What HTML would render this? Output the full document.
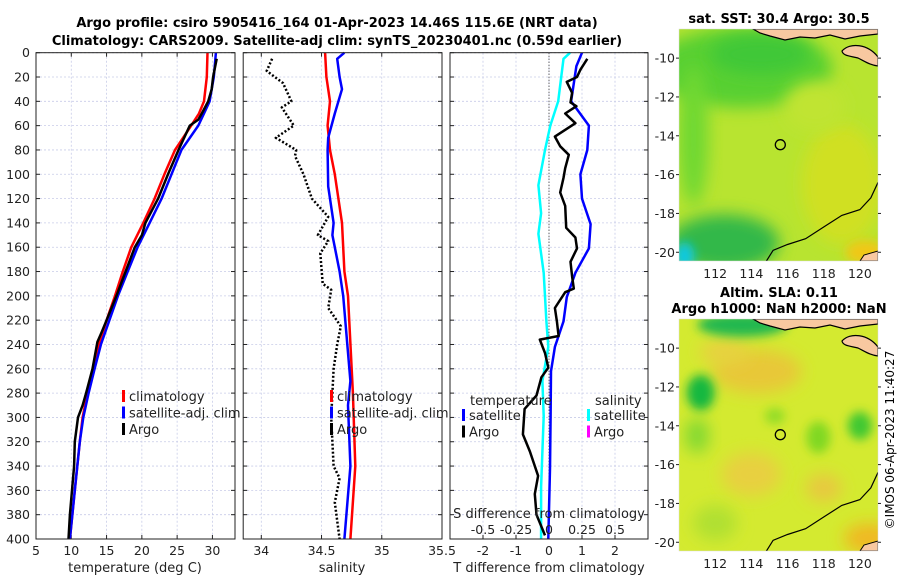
<!DOCTYPE html>
<html><head><meta charset="utf-8">
<style>
html,body{margin:0;padding:0;background:#fff;}
body{width:900px;height:580px;overflow:hidden;font-family:"Liberation Sans","DejaVu Sans",sans-serif;}
svg text{font-family:"DejaVu Sans","Liberation Sans",sans-serif;}
</style></head>
<body>
<svg id="chart" width="900" height="580" viewBox="0 0 900 580" xmlns="http://www.w3.org/2000/svg">
<defs>
<filter id="blur8" x="-50%" y="-50%" width="200%" height="200%"><feGaussianBlur stdDeviation="8"/></filter>
<filter id="blur5" x="-50%" y="-50%" width="200%" height="200%"><feGaussianBlur stdDeviation="5"/></filter>
<clipPath id="clipM1"><rect x="679" y="29" width="199" height="232"/></clipPath>
<clipPath id="clipM2"><rect x="679" y="319" width="199" height="232"/></clipPath>
</defs>
<text x="337" y="27" font-size="13" font-weight="bold" text-anchor="middle">Argo profile: csiro 5905416_164 01-Apr-2023 14.46S 115.6E (NRT data)</text>
<text x="337" y="45" font-size="13" font-weight="bold" text-anchor="middle">Climatology: CARS2009. Satellite-adj clim: synTS_20230401.nc (0.59d earlier)</text>
<g id="g1"></g>
<g id="g2"></g>
<g id="g3"></g>
<g id="m1"></g>
<g id="m2"></g>
<text x="0" y="0" font-size="12" text-anchor="middle" transform="translate(894,440) rotate(-90)">©IMOS 06-Apr-2023 11:40:27</text>
</svg>
<script>
// ---- data ----
const depthTicks = [0,20,40,60,80,100,120,140,160,180,200,220,240,260,280,300,320,340,360,380,400];
const tTicks = [5,10,15,20,25,30];
const sTicks = [34,34.5,35,35.5];
const sTickLabels = ["34","34.5","35","35.5"];
const dTicks = [-2,-1,0,1,2];
const dSTicks = [-0.5,-0.25,0,0.25,0.5];
const dSTickLabels = ["-0.5","-0.25","0","0.25","0.5"];

const climTDepth = [0,20,40,50,60,80,100,120,140,160,180,200,220,240,260,280,300,320,360,400];
const climT      = [29.3,29.2,28.8,28.1,27.0,24.7,23.2,21.8,20.2,18.5,17.3,16.2,15.0,13.9,13.2,12.3,11.6,11.2,10.5,9.8];
const satTDepth  = [0,20,40,50,60,80,100,120,140,160,180,200,220,240,260,280,300,320,360,400];
const satT       = [30.5,30.2,29.6,28.8,28.0,25.6,24.2,22.8,21.1,19.4,18.0,16.6,15.4,14.2,13.3,12.45,11.7,11.2,10.5,9.8];
const argoTDepth = [5,20,30,40,50,55,60,80,100,120,140,150,160,180,200,220,230,238,260,280,290,300,320,340,360,380,400];
const argoT      = [30.6,30.1,29.9,29.4,28.5,28.0,26.8,25.2,23.7,22.3,20.5,20.0,19.0,17.7,16.4,15.0,14.3,13.7,13.0,12.1,11.6,10.95,10.5,10.4,10.1,9.8,9.6];

const climSDepth = [0,20,40,60,80,100,140,180,200,280,340,400];
const climS      = [34.53,34.54,34.57,34.55,34.57,34.61,34.67,34.69,34.72,34.76,34.78,34.74];
const satSDepth  = [0,5,20,30,50,70,80,110,140,150,180,200,270,290,340,400];
const satS       = [34.69,34.63,34.65,34.67,34.61,34.555,34.55,34.555,34.6,34.59,34.65,34.68,34.74,34.72,34.74,34.69];
const argoSDepth = [5,15,25,40,45,60,70,80,85,100,120,135,150,155,165,190,195,210,225,240,260,300,340,350,370,400];
const argoS      = [34.09,34.045,34.18,34.25,34.17,34.27,34.12,34.29,34.28,34.35,34.42,34.555,34.47,34.555,34.49,34.51,34.58,34.555,34.66,34.63,34.6,34.58,34.6,34.65,34.61,34.65];

const dArgoTDepth = [5,14,20,24,33,41,44,50,58,69,77,84,95,103,115,126,144,152,161,172,184,194,197,210,221,233,236,247,259,267,282,293,314,328,348,363,380,397];
const dArgoT      = [1.16,0.95,0.85,0.54,0.7,0.65,0.83,0.49,0.8,0.18,0.34,0.6,0.49,0.44,0.34,0.49,0.52,0.8,0.85,0.65,0.7,0.75,0.49,0.18,0.24,0.29,-0.28,-0.12,-0.02,-0.23,-0.38,-0.74,-0.79,-0.58,-0.33,-0.43,-0.38,-0.12];
const dSatTDepth  = [0,11,40,60,80,100,120,141,161,181,201,221,242,262,299,342,400];
const dSatT       = [1.0,0.83,0.67,1.21,1.16,0.95,1.0,1.26,1.21,0.8,0.54,0.44,0.18,0.06,0.05,0.03,-0.02];
const dSatSDepth  = [0,5,40,60,80,109,132,149,181,221,242,270,299,357,400];
const dSatS       = [0.16,0.11,0.07,0.01,-0.03,-0.08,-0.06,-0.08,-0.04,-0.02,-0.005,-0.05,-0.04,-0.06,-0.06];

const lonTicks = [112,114,116,118,120];
const latTicks = [-10,-12,-14,-16,-18,-20];
const argoLon = 115.6, argoLat = -14.46;

// ---- helpers ----
const NS = "http://www.w3.org/2000/svg";
function mk(parent, tag, attrs, text){
  const e = document.createElementNS(NS, tag);
  for (const k in attrs) e.setAttribute(k, attrs[k]);
  if (text !== undefined) e.textContent = text;
  parent.appendChild(e);
  return e;
}
const TOP = 52.7, BOT = 539;
const yD = d => TOP + (d/400)*(BOT-TOP);
function linScale(d0,d1,r0,r1){ return v => r0 + (v-d0)/(d1-d0)*(r1-r0); }

function panel(g, x0, x1, xs, xticks, xlabels, showY){
  mk(g,'rect',{x:x0,y:TOP,width:x1-x0,height:BOT-TOP,fill:'#fff'});
  depthTicks.forEach(d=>{
    const y = yD(d);
    const gl = mk(g,'line',{x1:x0,x2:x1,y1:y,y2:y,stroke:'#c8cce8','stroke-width':0.8,'stroke-dasharray':'2,2'});
    
    
    mk(g,'line',{x1:x0,x2:x0+4,y1:y,y2:y,stroke:'#222'});
    mk(g,'line',{x1:x1-4,x2:x1,y1:y,y2:y,stroke:'#222'});
    if (showY){
      const t = mk(g,'text',{x:x0-6,y:y+4.5,'font-size':12.5,'text-anchor':'end',fill:'#222'}, String(d));
      
      
    }
  });
  xticks.forEach((v,i)=>{
    const x = xs(v);
    const gl = mk(g,'line',{x1:x,x2:x,y1:TOP,y2:BOT,stroke:'#c8cce8','stroke-width':0.8,'stroke-dasharray':'2,2'});
    
    
    mk(g,'line',{x1:x,x2:x,y1:BOT,y2:BOT-4,stroke:'#222'});
    mk(g,'line',{x1:x,x2:x,y1:TOP,y2:TOP+4,stroke:'#222'});
    const t = mk(g,'text',{x:x,y:BOT+16,'font-size':12.5,'text-anchor':'middle',fill:'#222'}, xlabels[i]);
    
    
  });
}
function frame(g,x0,x1){
  const r = mk(g,'rect',{x:x0,y:TOP,width:x1-x0,height:BOT-TOP,fill:'none',stroke:'#222','stroke-width':1});
  
  
}
function line(g, xs, depths, vals, color, w, dash, name){
  const pts = depths.map((d,i)=> xs(vals[i]).toFixed(1)+','+yD(d).toFixed(1)).join(' ');
  const p = mk(g,'polyline',{points:pts,fill:'none',stroke:color,'stroke-width':w,'stroke-linejoin':'round'});
  if (dash) p.setAttribute('stroke-dasharray',dash);
  
  
  return p;
}
function legend(g, x, y, items){
  items.forEach((it,i)=>{
    const yy = y + i*16.5;
    mk(g,'rect',{x:x,y:yy-8,width:3,height:12,fill:it[1]});
    const t = mk(g,'text',{x:x+7,y:yy+3,'font-size':13,fill:'#222'}, it[0]);
    
    
  });
}

// ---- panel 1: temperature ----
const g1 = document.getElementById('g1');
const xT = linScale(5,33.2,36,235);
panel(g1,36,235,xT,tTicks,tTicks.map(String),true);
line(g1,xT,climTDepth,climT,'#ff0000',2.5,null,'climatology-temperature-line');
line(g1,xT,satTDepth,satT,'#0000ff',2.5,null,'satellite-temperature-line');
line(g1,xT,argoTDepth,argoT,'#000000',2.5,null,'argo-temperature-line');
frame(g1,36,235);
legend(g1,122,398,[['climatology','#ff0000'],['satellite-adj. clim','#0000ff'],['Argo','#000']]);
mk(g1,'text',{x:135,y:572,'font-size':13,'text-anchor':'middle',fill:'#222'},'temperature (deg C)');

// ---- panel 2: salinity ----
const g2 = document.getElementById('g2');
const xS = linScale(34,35.5,261.3,442);
panel(g2,243.2,442,xS,sTicks,sTickLabels,false);
line(g2,xS,climSDepth,climS,'#ff0000',2.5,null,'climatology-salinity-line');
line(g2,xS,satSDepth,satS,'#0000ff',2.5,null,'satellite-salinity-line');
line(g2,xS,argoSDepth,argoS,'#000000',2.5,'2,2','argo-salinity-line');
frame(g2,243.2,442);
legend(g2,330,398,[['climatology','#ff0000'],['satellite-adj. clim','#0000ff'],['Argo','#000']]);
mk(g2,'text',{x:342,y:572,'font-size':13,'text-anchor':'middle',fill:'#222'},'salinity');

// ---- panel 3: differences ----
const g3 = document.getElementById('g3');
const xD = linScale(-3,3,450,648);
const xDS = s => xD(4*s);
mk(g3,'rect',{x:450,y:TOP,width:198,height:BOT-TOP,fill:'#fff'});
depthTicks.forEach(d=>{
  const y = yD(d);
  mk(g3,'line',{x1:450,x2:648,y1:y,y2:y,stroke:'#c8cce8','stroke-width':0.8,'stroke-dasharray':'2,2'});
  mk(g3,'line',{x1:450,x2:454,y1:y,y2:y,stroke:'#222'});
  mk(g3,'line',{x1:644,x2:648,y1:y,y2:y,stroke:'#222'});
});
dTicks.forEach(v=>{
  const x = xD(v);
  mk(g3,'line',{x1:x,x2:x,y1:TOP,y2:BOT,stroke:'#c8cce8','stroke-width':0.8,'stroke-dasharray':'2,2'});
  mk(g3,'line',{x1:x,x2:x,y1:BOT,y2:BOT-4,stroke:'#222'});
  const t = mk(g3,'text',{x:x,y:BOT+16,'font-size':12.5,'text-anchor':'middle',fill:'#222'}, String(v));
  
  
});
mk(g3,'line',{x1:xD(0),x2:xD(0),y1:TOP,y2:BOT,stroke:'#333','stroke-width':1,'stroke-dasharray':'1,2'});
line(g3,xDS,dSatSDepth,dSatS,'#00ffff',2.5,null,'satellite-salinity-diff-line');
line(g3,xD,dSatTDepth,dSatT,'#0000ff',2.5,null,'satellite-temperature-diff-line');
line(g3,xD,dArgoTDepth,dArgoT,'#000000',2.5,null,'argo-temperature-diff-line');
frame(g3,450,648);
mk(g3,'text',{x:470,y:405,'font-size':13,fill:'#222'},'temperature');
mk(g3,'text',{x:595,y:405,'font-size':13,fill:'#222'},'salinity');
legend(g3,462,417,[['satellite','#0000ff'],['Argo','#000']]);
legend(g3,587,417,[['satellite','#00ffff'],['Argo','#ff00ff']]);
mk(g3,'text',{x:549,y:518,'font-size':13,'text-anchor':'middle',fill:'#222'},'S difference from climatology');
dSTicks.forEach((v,i)=>{
  const t = mk(g3,'text',{x:xDS(v),y:534,'font-size':12.5,'text-anchor':'middle',fill:'#222'}, dSTickLabels[i]);
  
  
});
mk(g3,'text',{x:549,y:572,'font-size':13,'text-anchor':'middle',fill:'#222'},'T difference from climatology');

// ---- maps ----
function mapAxes(g, top, title, blobs, clip){
  const L=679,R=878,H=232;
  const xM = linScale(110,121,L,R);
  const yM = v => top + (-8.5 - v)/(20.45-8.5)*H;
  const cg = mk(g,'g',{'clip-path':'url(#'+clip+')'});
  blobs.forEach(b=>{
    if (b[0]==='rect') mk(cg,'rect',{x:L,y:top,width:R-L,height:H,fill:b[1]});
    else mk(cg,'ellipse',{cx:xM(b[1]),cy:yM(b[2]),rx:b[3],ry:b[4],fill:b[5],filter:'url(#'+b[6]+')'});
  });
  mk(cg,'path',{d:'M753,'+top+' L878,'+top+' L878,'+(top+5)+' L860,'+(top+7)+' L845,'+(top+10)+' L830,'+(top+6)+' L815,'+(top+9)+' L800,'+(top+8)+' L785,'+(top+11)+' L770,'+(top+7)+' L760,'+(top+4)+' Z',fill:'#f8c8a0',stroke:'#000','stroke-width':1.2});
  mk(cg,'path',{d:'M842,'+(top+22)+' C850,'+(top+13)+' 868,'+(top+15)+' 878,'+(top+28)+' L878,'+(top+37)+' C870,'+(top+36)+' 866,'+(top+33)+' 858,'+(top+29)+' C850,'+(top+27)+' 843,'+(top+27)+' 842,'+(top+22)+' Z',fill:'#f8c8a0',stroke:'#000','stroke-width':1.2});
  mk(cg,'path',{d:'M860,'+(top+H)+' L864,'+(top+H-6)+' L878,'+(top+H-10)+' L878,'+(top+H)+' Z',fill:'#f8c8a0',stroke:'#000','stroke-width':1});
  const coast=[[114.8,-20.5],[115.2,-19.9],[116,-19.6],[117,-19.3],[118,-18.7],[119,-18.1],[120,-17.8],[120.6,-17.2],[121,-16.4]];
  mk(cg,'polyline',{points:coast.map(p=>xM(p[0]).toFixed(1)+','+yM(p[1]).toFixed(1)).join(' '),fill:'none',stroke:'#000','stroke-width':1.2});
  const c = mk(g,'circle',{cx:xM(argoLon),cy:yM(argoLat),r:5,fill:'none',stroke:'#000','stroke-width':1.3});
  
  
  mk(g,'rect',{x:L,y:top,width:R-L,height:H,fill:'none',stroke:'#ddd','stroke-width':0.5});
  latTicks.forEach(v=>{
    const y = yM(v);
    mk(g,'line',{x1:L-3,x2:L,y1:y,y2:y,stroke:'#222'});
    mk(g,'line',{x1:R,x2:R+3,y1:y,y2:y,stroke:'#222'});
    const t = mk(g,'text',{x:L-4,y:y+4.5,'font-size':12.5,'text-anchor':'end',fill:'#222'}, String(v));
    
    
  });
  lonTicks.forEach(v=>{
    const x = xM(v);
    const t = mk(g,'text',{x:x,y:top+H+17,'font-size':12.5,'text-anchor':'middle',fill:'#222'}, String(v));
    
    
  });
  title.forEach((s,i)=> mk(g,'text',{x:779,y:top-6-(title.length-1-i)*16,'font-size':13,'font-weight':'bold','text-anchor':'middle'},s));
}
mapAxes(document.getElementById('m1'),29,['sat. SST: 30.4 Argo: 30.5'],[
  ['rect','#b8e430'],
  ['e',113.5,-10.5,90,40,'#58d030','blur8'],
  ['e',114.5,-9.8,50,20,'#40c838','blur8'],
  ['e',110.8,-14,15,70,'#70d830','blur8'],
  ['e',112.5,-19.5,55,28,'#30b848','blur8'],
  ['e',110.3,-20.2,10,14,'#10c8e0','blur5'],
  ['e',119,-16.5,40,60,'#d0e020','blur8'],
  ['e',120.3,-20,20,12,'#f0c818','blur5'],
  ['e',117.5,-12.5,30,25,'#c0e430','blur8']
],'clipM1');
mapAxes(document.getElementById('m2'),319,['Altim. SLA: 0.11','Argo h1000: NaN h2000: NaN'],[
  ['rect','#d4ea30'],
  ['e',114.3,-11.2,45,22,'#e8c838','blur8'],
  ['e',112.5,-10.2,25,12,'#e8d040','blur8'],
  ['e',113.5,-8.8,45,12,'#20b850','blur5'],
  ['e',111.2,-12.3,14,18,'#18b840','blur5'],
  ['e',111,-14.5,12,18,'#80d830','blur8'],
  ['e',120,-14,12,14,'#40c830','blur5'],
  ['e',117.7,-14.6,12,16,'#80d820','blur5'],
  ['e',115.3,-13.5,10,8,'#90dc28','blur5'],
  ['e',114,-16.5,30,22,'#e8d040','blur8'],
  ['e',118,-17.2,18,14,'#e8c840','blur8'],
  ['e',112,-19,22,18,'#b0e030','blur8'],
  ['e',120.5,-19.8,25,15,'#f0b820','blur8']
],'clipM2');
</script>
</body></html>
